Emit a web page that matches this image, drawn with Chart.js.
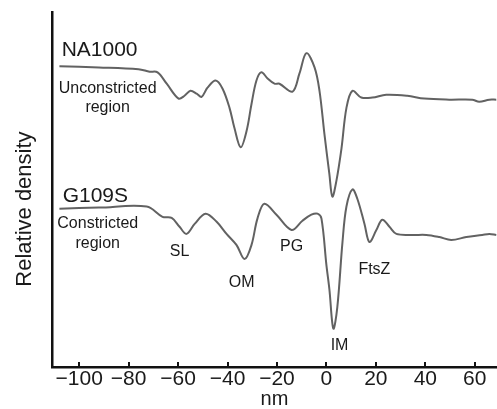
<!DOCTYPE html>
<html>
<head>
<meta charset="utf-8">
<script src="https://cdn.jsdelivr.net/npm/chart.js@4.4.0/dist/chart.umd.min.js"></script>
<style>
  html, body { margin: 0; padding: 0; background: #fff; }
  #chart { display: block; }
</style>
</head>
<body>
<canvas id="chart" width="497" height="409"></canvas>
<script>
// Density profiles (nm vs relative density, arbitrary units)
const na1000X = [-108, -92, -76, -71.5, -68.3, -64.6, -59.8, -57.4, -55.0, -52.5, -50.5, -48.1, -44.8, -42.0, -39.2, -37.2, -34.7, -32.3, -30.3, -28.3, -26.3, -23.8, -21.0, -19.0, -13.7, -10.9, -8.1, -4.8, -2.8, -0.8, 1.2, 2.4, 4.0, 6.1, 8.1, 10.5, 14.1, 18.6, 24.2, 32.7, 39.6, 49.7, 59.0, 61.8, 65.9, 68.7];
const na1000Y = [84.7, 84.4, 83.9, 83.2, 83.0, 79.8, 75.6, 76.4, 77.8, 77.0, 76.1, 78.7, 80.7, 78.4, 73.0, 67.3, 61.9, 66.5, 74.1, 80.7, 83.0, 81.3, 79.8, 79.8, 77.6, 82.7, 88.4, 84.4, 77.8, 65.6, 54.3, 48.0, 52.3, 61.6, 73.0, 77.8, 75.9, 75.9, 76.7, 76.4, 75.6, 75.3, 75.3, 74.7, 75.3, 75.3];

const g109sX = [-108, -92, -72.7, -66.3, -62.6, -59.4, -56.6, -53.3, -48.9, -44.4, -40.4, -36.4, -33.1, -30.3, -27.9, -25.1, -20.2, -14.1, -9.7, -6.1, -3.6, -2.0, 0, 1.2, 2.8, 4.4, 6.5, 8.1, 10.5, 12.5, 15.4, 17.4, 20.2, 22.6, 25.5, 28.3, 34.7, 40.4, 45.7, 50.5, 56.6, 63.0, 65.9, 68.7];
const g109sY = [44.6, 44.9, 45.2, 42.3, 42.0, 39.5, 37.5, 40.3, 43.2, 40.9, 37.5, 34.4, 30.4, 34.4, 41.8, 46.0, 42.9, 38.6, 41.2, 42.9, 43.2, 41.8, 28.7, 21.9, 10.8, 16.8, 35.2, 45.2, 50.0, 47.4, 40.3, 35.2, 38.6, 41.5, 39.5, 37.5, 37.2, 37.2, 36.6, 35.8, 36.6, 37.2, 37.5, 37.2];

const xTicks = [-100, -80, -60, -40, -20, 0, 20, 40, 60];

// Text annotations placed in data space
const notes = [
  { text: "NA1000", x: -107.1, y: 89.2, size: 21, align: "left" },
  { text: "Unconstricted", x: -88.5, y: 78.4, size: 16, align: "center" },
  { text: "region", x: -88.5, y: 73.0, size: 16, align: "center" },
  { text: "G109S", x: -106.7, y: 48.0, size: 21, align: "left" },
  { text: "Constricted", x: -92.5, y: 40.3, size: 16, align: "center" },
  { text: "region", x: -92.5, y: 34.7, size: 16, align: "center" },
  { text: "SL", x: -59.4, y: 32.4, size: 16, align: "center" },
  { text: "OM", x: -34.3, y: 23.9, size: 16, align: "center" },
  { text: "PG", x: -14.1, y: 33.8, size: 16, align: "center" },
  { text: "IM", x: 5.3, y: 6.0, size: 16, align: "center" },
  { text: "FtsZ", x: 19.4, y: 27.3, size: 16, align: "center" }
];

const FONT = "'Liberation Sans', Arial, sans-serif";
const minus = (v) => String(v).replace("-", "\u2212");

const toPoints = (xs, ys) => xs.map((x, i) => ({ x: x, y: ys[i] }));

// inside tick marks and text notes
const extras = {
  id: "extras",
  afterDraw(chart) {
    const ctx = chart.ctx;
    const xs = chart.scales.x;
    const ys = chart.scales.y;
    const bottom = chart.chartArea.bottom;
    ctx.save();
    ctx.strokeStyle = "#111";
    ctx.lineWidth = 2;
    xTicks.forEach((v) => {
      const px = Math.round(xs.getPixelForValue(v));
      ctx.beginPath();
      ctx.moveTo(px, bottom);
      ctx.lineTo(px, bottom - 5);
      ctx.stroke();
    });
    ctx.fillStyle = "#1a1a1a";
    ctx.textBaseline = "middle";
    notes.forEach((n) => {
      ctx.font = n.size + "px " + FONT;
      ctx.textAlign = n.align;
      ctx.fillText(n.text, xs.getPixelForValue(n.x), ys.getPixelForValue(n.y));
    });
    ctx.restore();
  }
};

new Chart(document.getElementById("chart"), {
  type: "line",
  data: {
    datasets: [
      { label: "NA1000", data: toPoints(na1000X, na1000Y) },
      { label: "G109S", data: toPoints(g109sX, g109sY) }
    ]
  },
  options: {
    responsive: false,
    animation: false,
    layout: { padding: { top: 12, left: 12, right: 0, bottom: 0 } },
    elements: {
      line: { borderColor: "#626262", borderWidth: 2, tension: 0.35, fill: false },
      point: { radius: 0 }
    },
    plugins: { legend: { display: false }, tooltip: { enabled: false } },
    scales: {
      x: {
        type: "linear",
        min: -111,
        max: 69,
        afterBuildTicks: (scale) => { scale.ticks = xTicks.map((v) => ({ value: v })); },
        grid: { display: false, drawTicks: false },
        border: { display: true, color: "#111", width: 2.5 },
        ticks: {
          color: "#1a1a1a",
          padding: 2,
          maxRotation: 0,
          font: { family: FONT, size: 21, lineHeight: 1 },
          callback: (v) => minus(v)
        },
        title: {
          display: true,
          text: "nm",
          color: "#1a1a1a",
          padding: { top: -3, bottom: 0 },
          font: { family: FONT, size: 20, lineHeight: 1 }
        }
      },
      y: {
        type: "linear",
        min: 0,
        max: 100,
        grid: { display: false, drawTicks: false },
        border: { display: true, color: "#111", width: 2.5 },
        ticks: { display: false },
        title: {
          display: true,
          // trailing spaces nudge the centred title down to where it sits in the original
          text: "Relative density\u2003\u2002 ",
          color: "#1a1a1a",
          padding: { top: 0, bottom: 13.6 },
          font: { family: FONT, size: 22, lineHeight: 1.2 }
        }
      }
    }
  },
  plugins: [extras]
});
</script>
</body>
</html>
